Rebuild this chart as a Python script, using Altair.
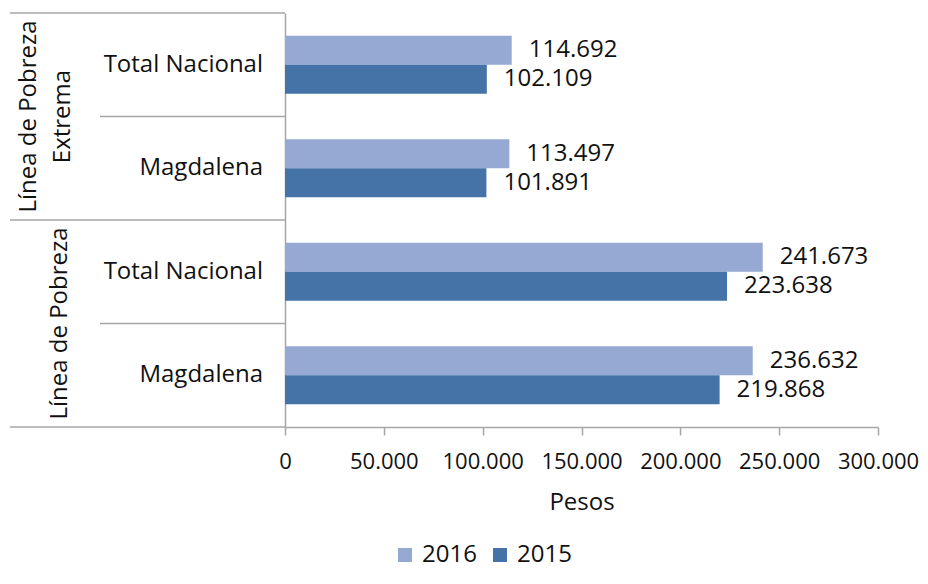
import altair as alt
import pandas as pd

# ---- data ----
group_keys = ["Extrema", "Extrema", "Pobreza", "Pobreza"]
regions = ["Total Nacional", "Magdalena", "Total Nacional", "Magdalena"]
values_2016 = [114692, 113497, 241673, 236632]
values_2015 = [102109, 101891, 223638, 219868]
years = ["2016", "2015"]
group_titles = {"Extrema": "Línea de Pobreza\nExtrema", "Pobreza": "Línea de Pobreza"}
x_ticks = [0, 50000, 100000, 150000, 200000, 250000, 300000]

cats = [f"{g}|{r}" for g, r in zip(group_keys, regions)]

rows = []
for c, r, g, v16, v15 in zip(cats, regions, group_keys, values_2016, values_2015):
    rows.append({"cat": c, "region": r, "group": g, "year": "2016", "value": v16})
    rows.append({"cat": c, "region": r, "group": g, "year": "2015", "value": v15})
bars_df = pd.DataFrame(rows)

cat_df = pd.DataFrame({"cat": cats, "region": regions, "group": group_keys,
                       "first": [i % 2 == 0 for i in range(len(cats))]})
outer_df = pd.DataFrame({"cat": [cats[1], cats[3]],
                         "group": ["Extrema", "Pobreza"],
                         "label": [group_titles["Extrema"], group_titles["Pobreza"]]})
bottom_df = pd.DataFrame({"cat": [cats[-1]]})

FONT = "Open Sans"
FS = 24
GRAY = "#A6A6A6"
TXT = "#111111"
colors = ["#95A9D2", "#4573A7"]

yscale = alt.Scale(domain=cats, paddingInner=0, paddingOuter=0)

base = alt.Chart(bars_df)

bars = base.mark_bar().encode(
    x=alt.X("value:Q",
            scale=alt.Scale(domain=[0, 300000], nice=False),
            axis=alt.Axis(values=x_ticks, title="Pesos",
                          labelExpr="replace(format(datum.value, ','), ',', '.')",
                          labelFontSize=22, labelColor=TXT, labelFont=FONT,
                          labelOverlap=False, labelFlush=False,
                          labelPadding=16, tickSize=8, tickColor=GRAY, tickWidth=1.5,
                          domainColor=GRAY, domainWidth=1.5, grid=False,
                          titleFontSize=FS, titleFont=FONT, titleFontWeight="normal",
                          titleColor=TXT, titlePadding=18)),
    y=alt.Y("cat:N", scale=yscale, sort=cats,
            axis=alt.Axis(labels=False, ticks=False, title=None,
                          domainColor=GRAY, domainWidth=1.5)),
    yOffset=alt.YOffset("year:N", sort=years,
                        scale=alt.Scale(domain=years, paddingOuter=0.784, paddingInner=0)),
    color=alt.Color("year:N", sort=years,
                    scale=alt.Scale(domain=years, range=colors),
                    legend=alt.Legend(title=None, orient="none", legendX=108, legendY=530,
                                      direction="horizontal", symbolType="square",
                                      symbolSize=196, symbolStrokeWidth=0,
                                      labelFontSize=FS, labelFont=FONT, labelColor=TXT,
                                      labelOffset=5, columnPadding=11)),
)

bar_labels = base.mark_text(align="left", baseline="middle", dx=17, fontSize=FS,
                            font=FONT, color=TXT).transform_calculate(
    lbl="replace(format(datum.value, ','), ',', '.')"
).encode(
    x=alt.X("value:Q"),
    y=alt.Y("cat:N", sort=cats),
    yOffset=alt.YOffset("year:N", sort=years),
    text="lbl:N",
)

inner_labels = alt.Chart(cat_df).mark_text(align="right", baseline="middle", fontSize=FS,
                                           font=FONT, color=TXT).encode(
    x=alt.value(-22),
    y=alt.Y("cat:N", sort=cats),
    text="region:N",
)

outer_1 = alt.Chart(outer_df).transform_filter("datum.group == 'Extrema'").mark_text(
    align="center", baseline="middle", angle=270, fontSize=FS, font=FONT,
    color=TXT, lineBreak="\n", lineHeight=34).encode(
    x=alt.value(-256),
    y=alt.Y("cat:N", sort=cats, bandPosition=0),
    text="label:N",
)
outer_2 = alt.Chart(outer_df).transform_filter("datum.group == 'Pobreza'").mark_text(
    align="center", baseline="middle", angle=270, fontSize=FS, font=FONT,
    color=TXT, lineBreak="\n", lineHeight=34).encode(
    x=alt.value(-225),
    y=alt.Y("cat:N", sort=cats, bandPosition=0),
    text="label:N",
)

long_rules = alt.Chart(cat_df).transform_filter("datum.first").mark_rule(
    color=GRAY, strokeWidth=1.5).encode(
    x=alt.value(-275), x2=alt.value(0),
    y=alt.Y("cat:N", sort=cats, bandPosition=0),
)
short_rules = alt.Chart(cat_df).transform_filter("!datum.first").mark_rule(
    color=GRAY, strokeWidth=1.5).encode(
    x=alt.value(-185), x2=alt.value(0),
    y=alt.Y("cat:N", sort=cats, bandPosition=0),
)
bottom_rule = alt.Chart(bottom_df).mark_rule(color=GRAY, strokeWidth=1.5).encode(
    x=alt.value(-275), x2=alt.value(0),
    y=alt.Y("cat:N", sort=cats, bandPosition=1),
)

chart = alt.layer(
    bars, bar_labels, inner_labels, outer_1, outer_2, long_rules, short_rules, bottom_rule
).properties(
    width=593, height=414,
    autosize=alt.AutoSizeParams(type="none"),
    padding={"left": 277, "top": 5, "right": 42, "bottom": 145},
).configure(font=FONT).configure_view(stroke=None)

chart.save("out.html", embed_options={"renderer": "svg", "actions": False})
